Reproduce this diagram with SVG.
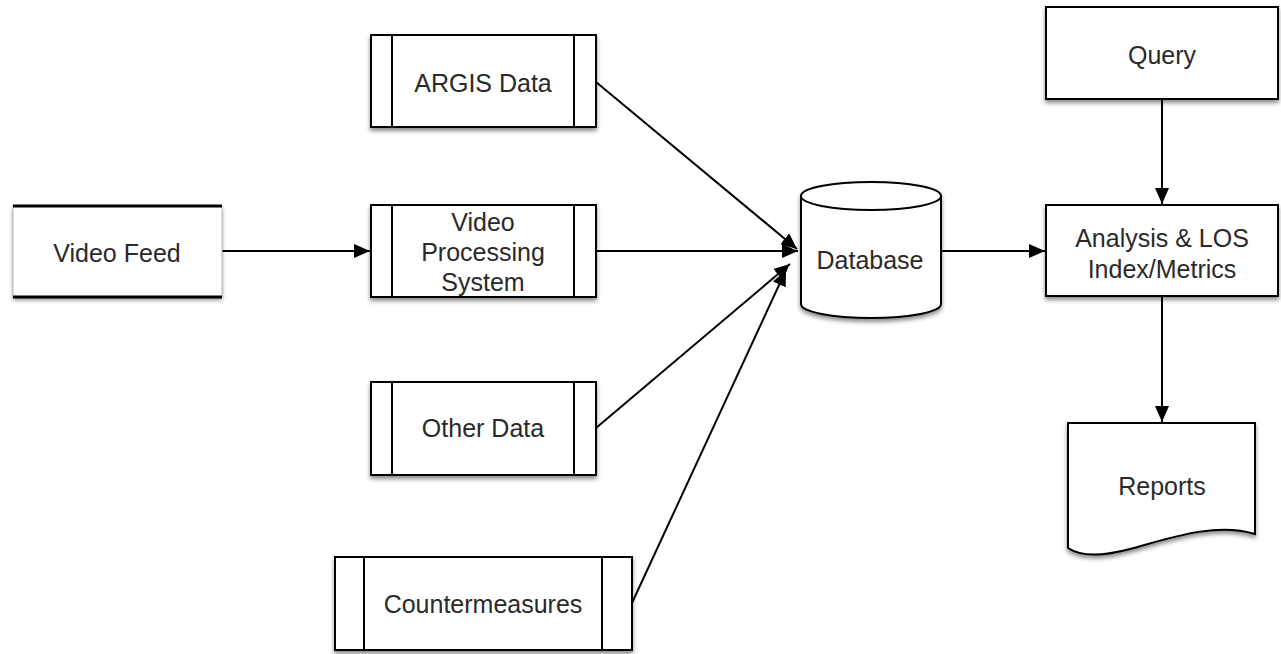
<svg xmlns="http://www.w3.org/2000/svg" width="1281" height="654" viewBox="0 0 1281 654">
<style>
.shape{fill:#fff;stroke:#000;stroke-width:2}
.div{stroke:#000;stroke-width:2}
.lbl{font-family:"Liberation Sans",Arial,Helvetica,sans-serif;font-size:25px;fill:#2a2a2a;text-anchor:middle}
.conn{stroke:#000;stroke-width:2;fill:none}
</style>
<defs>
<filter id="sh" x="-10%" y="-10%" width="120%" height="130%">
<feDropShadow dx="0" dy="3" stdDeviation="2" flood-color="#000" flood-opacity="0.45"/>
</filter>
<marker id="ah" viewBox="0 0 16 14" refX="16" refY="7" markerWidth="16" markerHeight="14" markerUnits="userSpaceOnUse" orient="auto">
<path d="M0,0 L16,7 L0,14 Z" fill="#000"/>
</marker>
</defs>
<rect width="1281" height="654" fill="#fff"/>

<g id="connectors">
<line class="conn" x1="222" y1="251" x2="370" y2="251" marker-end="url(#ah)"/>
<line class="conn" x1="596" y1="82" x2="797" y2="249" marker-end="url(#ah)"/>
<line class="conn" x1="596" y1="251" x2="798" y2="251" marker-end="url(#ah)"/>
<line class="conn" x1="596" y1="428" x2="790" y2="264" marker-end="url(#ah)"/>
<line class="conn" x1="632" y1="603" x2="786" y2="270" marker-end="url(#ah)"/>
<line class="conn" x1="941" y1="251" x2="1045" y2="251" marker-end="url(#ah)"/>
<line class="conn" x1="1162" y1="99" x2="1162" y2="204" marker-end="url(#ah)"/>
<line class="conn" x1="1162" y1="296" x2="1162" y2="422" marker-end="url(#ah)"/>
</g>

<g id="video-feed">
<rect x="13" y="206" width="209" height="91" fill="#fff" filter="url(#sh)"/>
<line x1="13" y1="206" x2="13" y2="297" stroke="#bbb" stroke-width="1"/>
<line x1="222" y1="206" x2="222" y2="297" stroke="#bbb" stroke-width="1"/>
<line x1="13" y1="206" x2="222" y2="206" stroke="#000" stroke-width="3"/>
<line x1="13" y1="297" x2="222" y2="297" stroke="#000" stroke-width="3"/>
<text class="lbl" x="117" y="262">Video Feed</text>
</g>

<g id="argis-data">
<rect class="shape" x="371" y="35" width="225" height="92" filter="url(#sh)"/>
<line class="div" x1="392" y1="35" x2="392" y2="127"/>
<line class="div" x1="574" y1="35" x2="574" y2="127"/>
<text class="lbl" x="483" y="92">ARGIS Data</text>
</g>

<g id="video-processing">
<rect class="shape" x="371" y="205" width="225" height="92" filter="url(#sh)"/>
<line class="div" x1="392" y1="205" x2="392" y2="297"/>
<line class="div" x1="574" y1="205" x2="574" y2="297"/>
<text class="lbl" x="483" y="231">Video</text>
<text class="lbl" x="483" y="261">Processing</text>
<text class="lbl" x="483" y="291">System</text>
</g>

<g id="other-data">
<rect class="shape" x="371" y="382" width="225" height="93" filter="url(#sh)"/>
<line class="div" x1="392" y1="382" x2="392" y2="475"/>
<line class="div" x1="574" y1="382" x2="574" y2="475"/>
<text class="lbl" x="483" y="437">Other Data</text>
</g>

<g id="countermeasures">
<rect class="shape" x="335" y="557" width="297" height="93" filter="url(#sh)"/>
<line class="div" x1="364" y1="557" x2="364" y2="650"/>
<line class="div" x1="602" y1="557" x2="602" y2="650"/>
<text class="lbl" x="483" y="613">Countermeasures</text>
</g>

<g id="database">
<path class="shape" d="M801,196 A70,14 0 0 1 941,196 V304 A70,14 0 0 1 801,304 Z" filter="url(#sh)"/>
<path d="M801,196 A70,14 0 0 0 941,196" fill="none" stroke="#000" stroke-width="2"/>
<text class="lbl" x="870" y="269">Database</text>
</g>

<g id="query">
<rect class="shape" x="1046" y="7" width="232" height="92" filter="url(#sh)"/>
<text class="lbl" x="1162" y="64">Query</text>
</g>

<g id="analysis">
<rect class="shape" x="1046" y="205" width="232" height="91" filter="url(#sh)"/>
<text class="lbl" x="1162" y="247">Analysis &amp; LOS</text>
<text class="lbl" x="1162" y="278">Index/Metrics</text>
</g>

<g id="reports">
<path class="shape" d="M1068,423 H1255 V534 C1215,522 1170,538 1130,549 C1100,557 1080,556 1068,548 Z" filter="url(#sh)"/>
<text class="lbl" x="1162" y="495">Reports</text>
</g>
</svg>
